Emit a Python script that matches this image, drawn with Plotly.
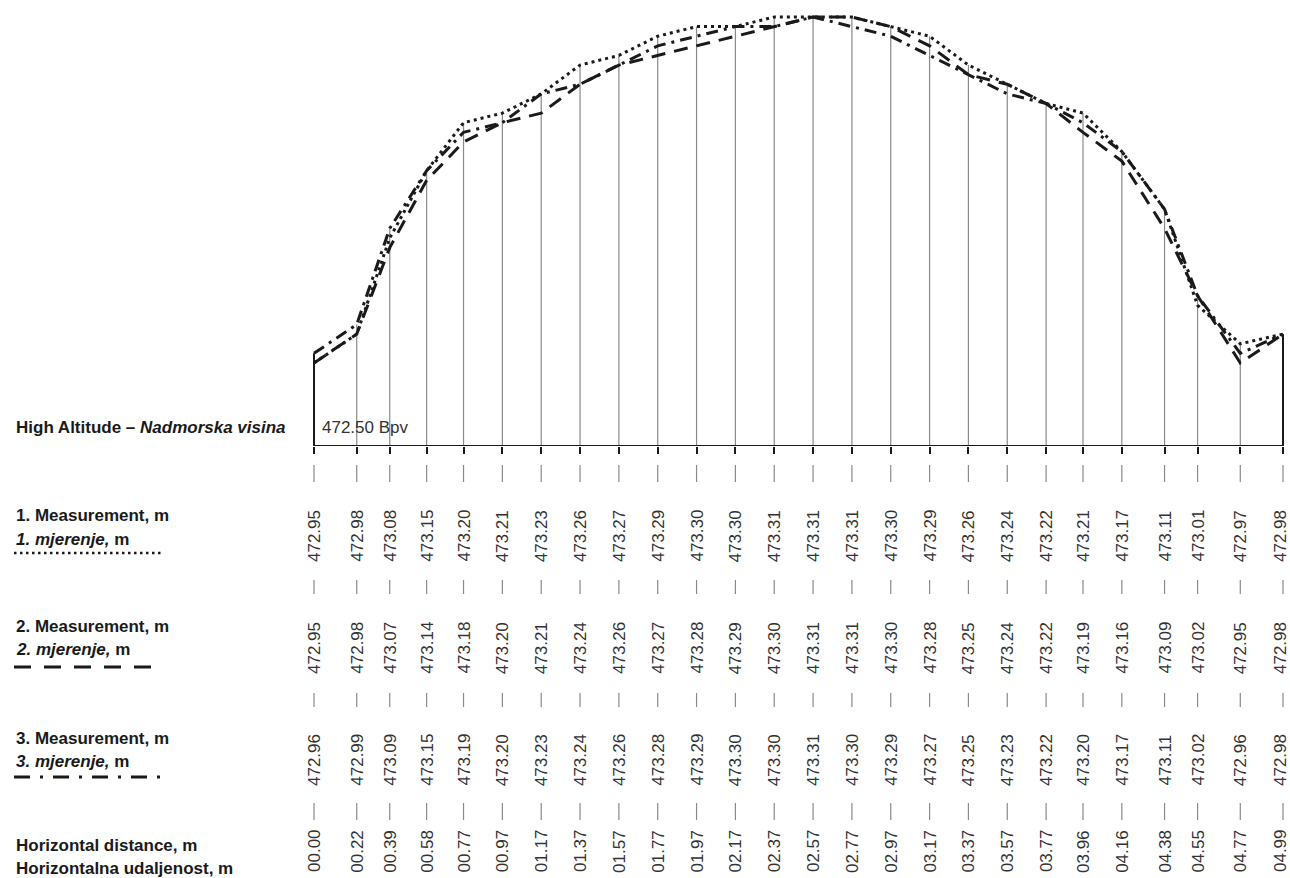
import plotly.graph_objects as go

# ---------------- data ----------------
distance = [0.00, 0.22, 0.39, 0.58, 0.77, 0.97, 1.17, 1.37, 1.57, 1.77, 1.97, 2.17, 2.37,
            2.57, 2.77, 2.97, 3.17, 3.37, 3.57, 3.77, 3.96, 4.16, 4.38, 4.55, 4.77, 4.99]
measurement_1 = [472.95, 472.98, 473.08, 473.15, 473.20, 473.21, 473.23, 473.26, 473.27,
                 473.29, 473.30, 473.30, 473.31, 473.31, 473.31, 473.30, 473.29, 473.26,
                 473.24, 473.22, 473.21, 473.17, 473.11, 473.01, 472.97, 472.98]
measurement_2 = [472.95, 472.98, 473.07, 473.14, 473.18, 473.20, 473.21, 473.24, 473.26,
                 473.27, 473.28, 473.29, 473.30, 473.31, 473.31, 473.30, 473.28, 473.25,
                 473.24, 473.22, 473.19, 473.16, 473.09, 473.02, 472.95, 472.98]
measurement_3 = [472.96, 472.99, 473.09, 473.15, 473.19, 473.20, 473.23, 473.24, 473.26,
                 473.28, 473.29, 473.30, 473.30, 473.31, 473.30, 473.29, 473.27, 473.25,
                 473.23, 473.22, 473.20, 473.17, 473.11, 473.02, 472.96, 472.98]
datum_label = "472.50 Bpv"

# ---------------- layout constants ----------------
W, H = 1290, 878
def py(px):  # pixel row -> paper y
    return 1 - px / H

BASE_PX = 446
Y_TOP = 473.3277
Y_BASE = 472.8636
X_MIN, X_MAX = -1.617, 5.026

INK = "#1a1a1a"
TXT = "#333333"
FONT = "Liberation Sans, Arial, sans-serif"

fig = go.Figure()

# vertical station lines (inner, grey)
top_vals = [max(a, b, c) for a, b, c in zip(measurement_1, measurement_2, measurement_3)]
vx, vy = [], []
for i, (x, t) in enumerate(zip(distance, top_vals)):
    if i in (0, len(distance) - 1):
        continue
    vx += [x, x, None]
    vy += [Y_BASE, t, None]
fig.add_trace(go.Scatter(x=vx, y=vy, mode="lines", line=dict(color="#8a8a8a", width=1.2),
                         hoverinfo="skip", showlegend=False))
# edge lines (black)
ex, ey = [], []
for i in (0, len(distance) - 1):
    ex += [distance[i], distance[i], None]
    ey += [Y_BASE, top_vals[i], None]
fig.add_trace(go.Scatter(x=ex, y=ey, mode="lines", line=dict(color=INK, width=2),
                         hoverinfo="skip", showlegend=False))
# baseline
fig.add_trace(go.Scatter(x=[distance[0], distance[-1]], y=[Y_BASE, Y_BASE], mode="lines",
                         line=dict(color=INK, width=2.2), hoverinfo="skip", showlegend=False))

# measurement profiles
fig.add_trace(go.Scatter(x=distance, y=measurement_2, mode="lines", name="2. Measurement",
                         line=dict(color=INK, width=3, dash="14px,9px"), showlegend=False))
fig.add_trace(go.Scatter(x=distance, y=measurement_3, mode="lines", name="3. Measurement",
                         line=dict(color=INK, width=3, dash="12px,6px,3px,6px"), showlegend=False))
fig.add_trace(go.Scatter(x=distance, y=measurement_1, mode="lines", name="1. Measurement",
                         line=dict(color=INK, width=3, dash="3px,4px"), showlegend=False))

annotations = []
shapes = []

# datum label
annotations.append(dict(x=0.03, y=py(428), xref="x", yref="paper", text=datum_label,
                        showarrow=False, xanchor="left", yanchor="middle",
                        font=dict(family=FONT, size=17, color=TXT)))

# table rows
row_centers = [536, 648, 760, 851]
row_values = [
    [f"{v:.2f}" for v in measurement_1],
    [f"{v:.2f}" for v in measurement_2],
    [f"{v:.2f}" for v in measurement_3],
    [f"{v:05.2f}" for v in distance],
]
last = len(distance) - 1
for yc, vals in zip(row_centers, row_values):
    for i, (x, s) in enumerate(zip(distance, vals)):
        annotations.append(dict(x=x, y=py(yc), xref="x", yref="paper", text=s,
                                textangle=-90, showarrow=False, xanchor="center",
                                yanchor="middle", borderpad=0,
                                xshift=(-3 if i == last else 0),
                                font=dict(family=FONT, size=17, color=TXT)))

# grey separators between rows
for (y0, y1) in [(465, 482), (580, 594), (693, 707), (803, 820)]:
    for x in distance:
        shapes.append(dict(type="line", xref="x", yref="paper", x0=x, x1=x,
                           y0=py(y0), y1=py(y1), line=dict(color="#8a8a8a", width=1.2)))

# left labels
labels = [
    (428, "<b>High Altitude – <i>Nadmorska visina</i></b>"),
    (515, "<b>1. Measurement, m</b>"),
    (539, "<b><i>1. mjerenje,</i> m</b>"),
    (626, "<b>2. Measurement, m</b>"),
    (649, "<b><i>2. mjerenje,</i> m</b>"),
    (738, "<b>3. Measurement, m</b>"),
    (761, "<b><i>3. mjerenje,</i> m</b>"),
    (845, "<b>Horizontal distance, m</b>"),
    (868, "<b>Horizontalna udaljenost, m</b>"),
]
for yc, t in labels:
    annotations.append(dict(x=14 / W, y=py(yc), xref="paper", yref="paper", text=t,
                            showarrow=False, xanchor="left", yanchor="middle",
                            font=dict(family=FONT, size=17, color=INK)))

# legend line samples
for (ypx, x1px, dash, wdt) in [(553, 164, "2.5px,3.5px", 2.5),
                               (667, 152, "17px,13px", 3),
                               (777, 166, "16px,10px,3px,10px", 3)]:
    shapes.append(dict(type="line", xref="paper", yref="paper", x0=14 / W, x1=x1px / W,
                       y0=py(ypx), y1=py(ypx), line=dict(color=INK, width=wdt, dash=dash)))

fig.update_layout(
    width=W, height=H,
    margin=dict(l=0, r=0, t=0, b=0),
    paper_bgcolor="white", plot_bgcolor="white",
    xaxis=dict(range=[X_MIN, X_MAX], showgrid=False, zeroline=False, showline=False,
               tickvals=distance, ticks="outside", ticklen=7, tickwidth=2, tickcolor=INK,
               showticklabels=False, fixedrange=True),
    yaxis=dict(range=[Y_BASE, Y_TOP], domain=[py(BASE_PX), 1], showgrid=False,
               zeroline=False, showline=False, showticklabels=False, ticks="",
               fixedrange=True),
    annotations=annotations,
    shapes=shapes,
)

fig.write_html("out.html",
               config={"displayModeBar": False},
               post_script="document.body.style.margin='0px';document.body.style.overflow='hidden';")
